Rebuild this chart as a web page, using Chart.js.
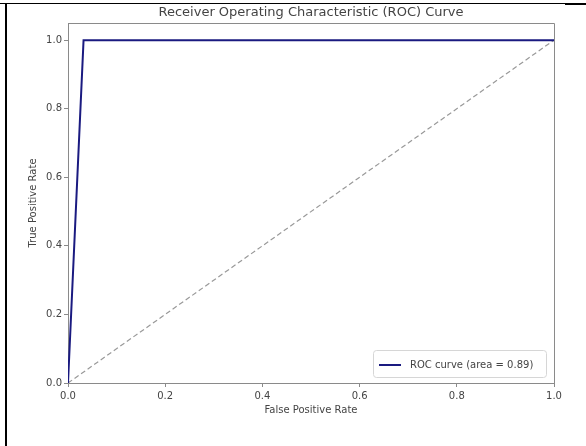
<!DOCTYPE html>
<html>
<head>
<meta charset="utf-8">
<script src="https://cdn.jsdelivr.net/npm/chart.js@4"></script>
<style>
  html, body { margin: 0; padding: 0; background: #fff; }
  #wrap { width: 586px; height: 446px; }
</style>
</head>
<body>
<div id="wrap"><canvas id="rocChart" width="586" height="446"></canvas></div>
<script>
// ROC curve points
const fpr = [0.0, 0.032, 1.0];
const tpr = [0.0, 1.0, 1.0];
// chance line
const chanceX = [0.0, 1.0];
const chanceY = [0.0, 1.0];
const rocArea = '0.89';
const axisTicks = [0.0, 0.2, 0.4, 0.6, 0.8, 1.0];

const FONT = 'DejaVu Sans';
const INK = '#444';
const SPINE = '#8a8a8a';

// frame, page border lines, title and legend are painted by hand
const extras = {
  id: 'extras',
  afterDraw(chart) {
    const { ctx, chartArea: a } = chart;
    ctx.save();
    // top/right spines
    ctx.strokeStyle = SPINE;
    ctx.lineWidth = 1;
    ctx.beginPath();
    ctx.moveTo(a.left, a.top + 0.5);
    ctx.lineTo(a.right + 0.5, a.top + 0.5);
    ctx.lineTo(a.right + 0.5, a.bottom);
    ctx.stroke();

    // title
    ctx.fillStyle = INK;
    ctx.font = '13px "' + FONT + '"';
    ctx.textAlign = 'center';
    ctx.textBaseline = 'middle';
    ctx.fillText('Receiver Operating Characteristic (ROC) Curve', (a.left + a.right) / 2, 13);

    // legend
    const lx = 373.5, ly = 350.5, lw = 173, lh = 27, r = 3;
    ctx.beginPath();
    ctx.moveTo(lx + r, ly);
    ctx.arcTo(lx + lw, ly, lx + lw, ly + lh, r);
    ctx.arcTo(lx + lw, ly + lh, lx, ly + lh, r);
    ctx.arcTo(lx, ly + lh, lx, ly, r);
    ctx.arcTo(lx, ly, lx + lw, ly, r);
    ctx.closePath();
    ctx.fillStyle = 'rgba(255,255,255,0.8)';
    ctx.fill();
    ctx.strokeStyle = '#d6d6d6';
    ctx.stroke();
    ctx.strokeStyle = '#1a1a80';
    ctx.lineWidth = 2;
    ctx.beginPath();
    ctx.moveTo(379, 365);
    ctx.lineTo(401, 365);
    ctx.stroke();
    ctx.fillStyle = INK;
    ctx.font = '10px "' + FONT + '"';
    ctx.textAlign = 'left';
    ctx.fillText(chart.data.datasets[0].label, 410, 365);

    // page border
    ctx.fillStyle = '#000';
    ctx.fillRect(0, 3, 565, 1);
    ctx.fillRect(565, 3, 21, 2);
    ctx.fillRect(5, 4, 2, 442);
    ctx.restore();
  }
};

new Chart(document.getElementById('rocChart'), {
  type: 'scatter',
  data: {
    datasets: [
      {
        label: 'ROC curve (area = ' + rocArea + ')',
        data: fpr.map((x, i) => ({ x: x, y: tpr[i] })),
        showLine: true,
        borderColor: '#1a1a80',
        borderWidth: 2,
        pointRadius: 0,
        tension: 0
      },
      {
        label: 'chance',
        data: chanceX.map((x, i) => ({ x: x, y: chanceY[i] })),
        showLine: true,
        borderColor: '#999',
        borderWidth: 1.2,
        borderDash: [5, 3],
        pointRadius: 0,
        tension: 0
      }
    ]
  },
  options: {
    responsive: false,
    animation: false,
    layout: { padding: { left: 0, top: 23, right: 32, bottom: 0 } },
    plugins: {
      legend: { display: false },
      title: { display: false },
      tooltip: { enabled: false }
    },
    scales: {
      x: {
        type: 'linear',
        min: 0,
        max: 1,
        afterBuildTicks: s => { s.ticks = axisTicks.map(v => ({ value: v })); },
        afterFit: s => { s.height = 63; },
        ticks: {
          callback: v => v.toFixed(1),
          color: INK,
          font: { family: FONT, size: 10 },
          padding: 3,
          maxRotation: 0
        },
        grid: { drawOnChartArea: false, drawTicks: true, tickLength: 4, color: SPINE },
        border: { display: true, color: SPINE, width: 1 },
        title: {
          display: true,
          text: 'False Positive Rate',
          color: INK,
          font: { family: FONT, size: 10 },
          padding: { top: 0, bottom: 30 }
        }
      },
      y: {
        type: 'linear',
        min: 0,
        max: 1.05,
        afterBuildTicks: s => { s.ticks = axisTicks.map(v => ({ value: v })); },
        afterFit: s => { s.width = 68; },
        ticks: {
          callback: v => v.toFixed(1),
          color: INK,
          font: { family: FONT, size: 10 },
          padding: 2
        },
        grid: { drawOnChartArea: false, drawTicks: true, tickLength: 4, color: SPINE },
        border: { display: true, color: SPINE, width: 1 },
        title: {
          display: true,
          text: 'True Positive Rate',
          color: INK,
          font: { family: FONT, size: 10 },
          padding: { top: 27, bottom: 0 }
        }
      }
    }
  },
  plugins: [extras]
});
</script>
</body>
</html>
